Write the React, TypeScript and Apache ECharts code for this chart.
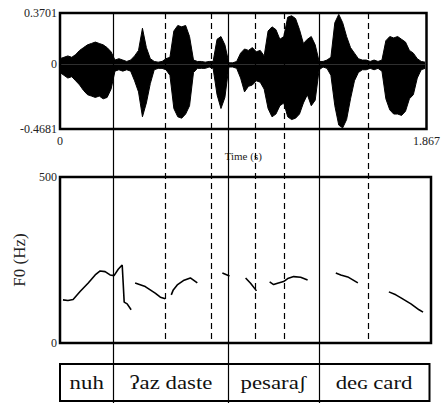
import React, { useEffect, useRef } from "react";
import * as echarts from "echarts";

const TMAX = 1.867;
const waveT = [0,0.02,0.04,0.06,0.08,0.1,0.12,0.14,0.16,0.18,0.2,0.22,0.24,0.26,0.28,0.3,0.32,0.34,0.36,0.38,0.4,0.42,0.44,0.46,0.48,0.5,0.52,0.54,0.56,0.58,0.6,0.62,0.64,0.66,0.68,0.7,0.72,0.74,0.76,0.78,0.8,0.82,0.84,0.86,0.88,0.9,0.92,0.94,0.96,0.98,1.0,1.02,1.04,1.06,1.08,1.1,1.12,1.14,1.16,1.18,1.2,1.22,1.24,1.26,1.28,1.3,1.32,1.34,1.36,1.38,1.4,1.42,1.44,1.46,1.48,1.5,1.52,1.54,1.56,1.58,1.6,1.62,1.64,1.66,1.68,1.7,1.72,1.74,1.76,1.78,1.8,1.82,1.84,1.86];
const waveUp = [0.04,0.05,0.06,0.05,0.07,0.1,0.12,0.14,0.15,0.16,0.15,0.14,0.12,0.09,0.03,0.04,0.03,0.02,0.03,0.06,0.1,0.26,0.12,0.04,0.02,0.015,0.02,0.04,0.05,0.24,0.28,0.27,0.28,0.2,0.03,0.02,0.02,0.015,0.02,0.02,0.18,0.2,0.14,0.01,0.01,0.02,0.08,0.11,0.1,0.12,0.09,0.1,0.06,0.24,0.27,0.25,0.18,0.2,0.34,0.35,0.33,0.25,0.15,0.18,0.2,0.14,0.02,0.02,0.03,0.05,0.3,0.36,0.3,0.2,0.12,0.08,0.04,0.03,0.03,0.02,0.03,0.02,0.03,0.17,0.2,0.19,0.2,0.18,0.16,0.1,0.08,0.04,0.02,0.015];
const waveLo = [-0.06,-0.08,-0.1,-0.09,-0.12,-0.15,-0.19,-0.22,-0.23,-0.24,-0.23,-0.25,-0.24,-0.18,-0.05,-0.04,-0.05,-0.04,-0.05,-0.12,-0.2,-0.38,-0.28,-0.14,-0.04,-0.03,-0.03,-0.04,-0.08,-0.32,-0.38,-0.39,-0.36,-0.3,-0.06,-0.03,-0.03,-0.03,-0.02,-0.03,-0.22,-0.32,-0.24,-0.02,-0.02,-0.03,-0.1,-0.2,-0.16,-0.15,-0.12,-0.13,-0.18,-0.32,-0.38,-0.36,-0.3,-0.28,-0.38,-0.4,-0.39,-0.36,-0.28,-0.22,-0.3,-0.26,-0.04,-0.02,-0.03,-0.08,-0.3,-0.44,-0.46,-0.4,-0.25,-0.12,-0.06,-0.04,-0.04,-0.03,-0.04,-0.03,-0.05,-0.25,-0.33,-0.36,-0.36,-0.37,-0.34,-0.25,-0.22,-0.1,-0.04,-0.03];

const f0T = [0.015,0.04,0.066,0.101,0.141,0.177,0.202,0.227,0.252,0.272,0.293,0.308,0.313,0.318,0.323,0.338,0.358,null,
  0.378,0.429,0.479,0.505,0.53,null,
  0.56,0.57,0.59,0.621,0.656,0.691,null,
  0.817,0.853,null,
  0.934,0.959,0.989,null,
  1.055,1.075,1.095,1.125,1.146,1.176,1.211,1.246,null,
  1.388,1.413,1.448,1.499,null,
  1.655,1.69,1.716,1.766,1.807,1.827];
const f0Hz = [130,128,131,155,180,205,217,215,205,203,222,232,235,180,123,118,100,null,
  181,170,150,138,133,null,
  145,160,175,188,196,181,null,
  211,202,null,
  196,180,157,null,
  184,176,180,185,194,200,198,190,null,
  211,205,199,181,null,
  154,145,136,118,100,93];

const solidBounds = [0.272, 0.858, 1.317];
const dashedBounds = [0.535, 0.767, 0.994, 1.14, 1.569];
const words = ["nuh", "ʔaz daste", "pesaraʃ", "deɢ card"];
const wordEdges = [0, 0.272, 0.858, 1.317, 1.867];
const ampTicks = [-0.4681, 0, 0.3701];
const f0Ticks = [0, 500];
const timeTicks = [0, 1.867];

const FONT = "Liberation Serif";

export default function App() {
  const ref = useRef<HTMLDivElement>(null);
  useEffect(() => {
    const chart = echarts.init(ref.current!, null, { renderer: "svg" });
    const lab = { fontFamily: FONT, color: "#222", fontSize: 12 };
    chart.setOption({
      animation: false,
      backgroundColor: "#fff",
      grid: [
        { left: 60, top: 13, width: 370, height: 116, show: true, borderColor: "#000", borderWidth: 2.5, backgroundColor: "transparent" },
        { left: 60, top: 177, width: 371, height: 166, show: true, borderColor: "#000", borderWidth: 2.5, backgroundColor: "transparent" },
      ],
      xAxis: [
        {
          type: "value", gridIndex: 0, min: 0, max: TMAX,
          axisLine: { show: false }, axisTick: { show: false }, splitLine: { show: false },
          axisLabel: { ...lab, customValues: timeTicks, margin: 6, formatter: (v: number) => (v === 0 ? "0" : String(v)) },
          name: "Time (s)", nameLocation: "middle", nameGap: 21,
          nameTextStyle: { fontFamily: FONT, color: "#222", fontSize: 11 },
        },
        {
          type: "value", gridIndex: 1, min: 0, max: TMAX,
          axisLine: { show: false }, axisTick: { show: false }, splitLine: { show: false },
          axisLabel: { show: false },
        },
      ],
      yAxis: [
        {
          type: "value", gridIndex: 0, min: -0.4681, max: 0.3701,
          axisLine: { show: false }, splitLine: { show: false },
          axisTick: { show: false },
          axisLabel: { ...lab, customValues: ampTicks, margin: 3, formatter: (v: number) => (v === 0 ? "0" : String(v)) },
        },
        {
          type: "value", gridIndex: 1, min: 0, max: 500,
          axisLine: { show: false }, splitLine: { show: false }, axisTick: { show: false },
          axisLabel: { ...lab, customValues: f0Ticks, margin: 3 },
          name: "F0 (Hz)", nameLocation: "middle", nameGap: 27, nameRotate: 90,
          nameTextStyle: { fontFamily: FONT, color: "#222", fontSize: 17 },
        },
      ],
      series: [
        {
          type: "line", xAxisIndex: 0, yAxisIndex: 0, symbol: "none",
          data: waveT.map((t, i) => [t, waveUp[i]]),
          lineStyle: { color: "#000", width: 1 }, areaStyle: { color: "#000", opacity: 1, origin: 0 },
        },
        {
          type: "line", xAxisIndex: 0, yAxisIndex: 0, symbol: "none",
          data: waveT.map((t, i) => [t, waveLo[i]]),
          lineStyle: { color: "#000", width: 1 }, areaStyle: { color: "#000", opacity: 1, origin: 0 },
        },
        {
          type: "line", xAxisIndex: 1, yAxisIndex: 1, symbol: "none", connectNulls: false,
          data: f0T.map((t, i) => (t === null ? [null, null] : [t, f0Hz[i]])),
          lineStyle: { color: "#000", width: 1.6 },
        },
      ],
    });

    const xp = (t: number) => chart.convertToPixel({ xAxisIndex: 0 }, t) as number;
    const top = chart.convertToPixel({ yAxisIndex: 0 }, 0.3701) as number;
    const f0Bottom = chart.convertToPixel({ yAxisIndex: 1 }, 0) as number;
    const tableTop = 364;
    const tableBottom = 401;
    const g: any[] = [];
    solidBounds.forEach((t) => {
      const x = Math.round(xp(t)) + 0.5;
      g.push({ type: "line", shape: { x1: x, y1: top, x2: x, y2: 403 }, style: { stroke: "#000", lineWidth: 1.2 }, z: 10 });
    });
    dashedBounds.forEach((t) => {
      const x = Math.round(xp(t)) + 0.5;
      g.push({ type: "line", shape: { x1: x, y1: top, x2: x, y2: f0Bottom }, style: { stroke: "#000", lineWidth: 1.2, lineDash: [6, 4] }, z: 10 });
    });
    const x0 = xp(wordEdges[0]);
    const x1 = xp(wordEdges[wordEdges.length - 1]) + 3;
    g.push({ type: "rect", shape: { x: x0, y: tableTop, width: x1 - x0, height: tableBottom - tableTop }, style: { fill: "none", stroke: "#000", lineWidth: 2 }, z: 11 });
    words.forEach((w, i) => {
      const a = xp(wordEdges[i]);
      const b = i === words.length - 1 ? x1 : xp(wordEdges[i + 1]);
      g.push({ type: "text", x: (a + b) / 2, y: (tableTop + tableBottom) / 2, scaleX: 1.2, style: { text: w, fontFamily: FONT, fontSize: 19, fill: "#111", align: "center", verticalAlign: "middle" }, z: 12 });
    });
    chart.setOption({ graphic: g });
    return () => chart.dispose();
  }, []);
  return <div ref={ref} style={{ position: "fixed", left: 0, top: 0, width: 443, height: 403 }} />;
}
